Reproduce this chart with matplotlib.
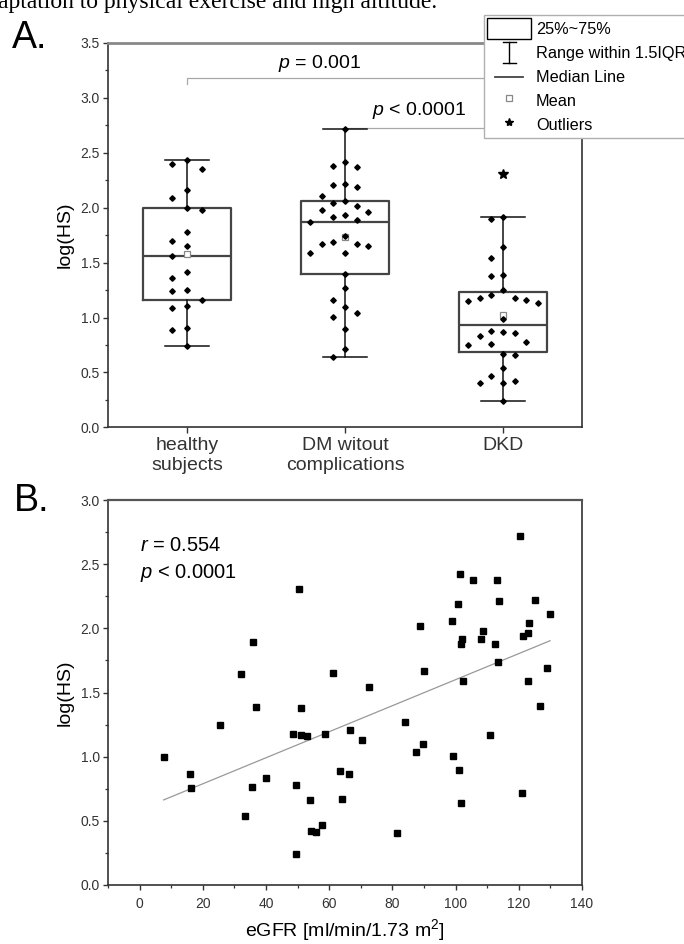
import numpy as np
import matplotlib
matplotlib.use("Agg")
import matplotlib.pyplot as plt
from matplotlib.lines import Line2D
from matplotlib.patches import Patch
from matplotlib.legend_handler import HandlerBase

plt.rcParams['font.family'] = 'Liberation Sans'
plt.rcParams['mathtext.fontset'] = 'custom'
plt.rcParams['mathtext.rm'] = 'Liberation Sans'
plt.rcParams['mathtext.it'] = 'Liberation Sans:italic'

# ---- panel A: log(HS) per group ----
groups = ["healthy\nsubjects", "DM witout\ncomplications", "DKD"]
hs_healthy = [2.43, 2.351, 2.394, 2.157, 2.0, 2.084, 1.981, 1.778, 1.699, 1.65, 1.562,
              1.414, 1.359, 1.253, 1.238, 1.162, 1.104, 1.089, 0.883, 0.904, 0.737]
hs_dm = [2.721, 2.415, 2.376, 2.373, 2.215, 2.209, 2.188, 2.109, 2.06, 2.015, 2.039,
         1.981, 1.93, 1.957, 1.914, 1.872, 1.884, 1.741, 1.65, 1.669, 1.687, 1.666,
         1.59, 1.59, 1.393, 1.265, 1.159, 1.095, 1.041, 1.004, 0.895, 0.71, 0.637]
hs_dkd = [2.309, 1.893, 1.917, 1.641, 1.541, 1.387, 1.377, 1.247, 1.153, 1.162, 1.204,
          1.174, 1.174, 1.129, 0.989, 0.862, 0.828, 0.78, 0.865, 0.88, 0.752, 0.758,
          0.667, 0.655, 0.537, 0.419, 0.404, 0.467, 0.407, 0.24]
p_labels = ["$\\it{p}$ = 0.001", "$\\it{p}$ < 0.0001"]

# ---- panel B: log(HS) vs eGFR ----
egfr = [7.6, 16.0, 16.3, 25.4, 36.8, 51.1, 35.6, 40.1, 33.4, 48.5, 51.1, 53.0, 58.6,
        49.6, 54.0, 54.1, 55.8, 57.6, 49.4, 66.6, 63.3, 66.3, 63.9, 70.5, 84.1, 87.4,
        89.8, 81.5, 99.1, 101.1, 101.6, 110.8, 121.1, 126.8, 120.3, 101.3, 105.5, 113.0,
        100.8, 113.8, 125.2, 129.9, 88.7, 98.8, 102.0, 101.7, 108.8, 107.9, 112.4, 123.1,
        123.0, 121.2, 113.5, 90.0, 128.9, 102.3, 122.9, 50.6, 35.9, 32.0, 61.2, 72.6]
hs_egfr = [0.995, 0.865, 0.755, 1.25, 1.39, 1.38, 0.76, 0.833, 0.536, 1.177, 1.17, 1.159,
           1.18, 0.78, 0.659, 0.42, 0.41, 0.469, 0.24, 1.21, 0.885, 0.867, 0.674, 1.13,
           1.27, 1.04, 1.096, 0.404, 1.008, 0.898, 0.64, 1.167, 0.716, 1.396, 2.72, 2.42,
           2.38, 2.38, 2.19, 2.21, 2.22, 2.11, 2.02, 2.06, 1.92, 1.88, 1.98, 1.92, 1.88,
           2.04, 1.96, 1.94, 1.74, 1.67, 1.69, 1.59, 1.59, 2.31, 1.89, 1.645, 1.65, 1.545]
corr_labels = ["$\\it{r}$ = 0.554", "$\\it{p}$ < 0.0001"]


def swarm(values, gap=0.12, max_spread=0.22, max_step=0.093):
    # greedy column layout: each point goes to the first free column
    values = np.asarray(values)
    cols = {}
    slot = np.zeros(len(values), dtype=int)
    tries = [0]
    for n in range(1, 12):
        tries += [-n, n]
    for i in np.argsort(values)[::-1]:
        for k in tries:
            if all(abs(values[i] - w) >= gap for w in cols.get(k, [])):
                break
        cols.setdefault(k, []).append(values[i])
        slot[i] = k
    kmax = max(1, np.abs(slot).max())
    return slot * min(max_step, max_spread / kmax)


class HandlerRange(HandlerBase):
    def create_artists(self, legend, orig_handle, xdescent, ydescent,
                       width, height, fontsize, trans):
        cx = width / 2 - xdescent
        y0, y1 = -ydescent, height - ydescent
        h = width * 0.15
        kw = dict(color='black', lw=1.0, transform=trans)
        return [Line2D([cx, cx], [y0, y1], **kw),
                Line2D([cx - h, cx + h], [y0, y0], **kw),
                Line2D([cx - h, cx + h], [y1, y1], **kw)]


class HandlerShortLine(HandlerBase):
    def create_artists(self, legend, orig_handle, xdescent, ydescent,
                       width, height, fontsize, trans):
        y = height / 2 - ydescent
        return [Line2D([-xdescent + 0.18 * width, -xdescent + 0.82 * width], [y, y],
                       color='#444444', lw=1.3, transform=trans)]


fig = plt.figure(figsize=(6.84, 9.44), dpi=100)
axA = fig.add_axes([108 / 684, 1 - 427.3 / 944, 474 / 684, 384.3 / 944])
axB = fig.add_axes([108 / 684, 1 - 885 / 944, 474 / 684, 385 / 944])

fig.text(-2 / 684, 1 - 8 / 944, "aptation to physical exercise and high altitude.",
         family='Liberation Serif', fontsize=17, va='baseline')
fig.text(12 / 684, 1 - 48 / 944, "A.", fontsize=27, va='baseline')
fig.text(14 / 684, 1 - 511 / 944, "B.", fontsize=27, va='baseline')

# ---- box plot ----
data = [hs_healthy, hs_dm, hs_dkd]
pos = np.arange(1, len(groups) + 1)
axA.boxplot(data, positions=pos, widths=0.56, whis=1.5, showmeans=True,
            capwidths=0.28,
            boxprops=dict(color='#444444', lw=1.6),
            medianprops=dict(color='#444444', lw=1.6),
            whiskerprops=dict(color='#111111', lw=1.1),
            capprops=dict(color='#111111', lw=1.1),
            meanprops=dict(marker='s', markersize=4.0, markerfacecolor='white',
                           markeredgecolor='#888888', markeredgewidth=0.9),
            flierprops=dict(marker='*', markersize=7, markerfacecolor='black',
                            markeredgecolor='black'),
            zorder=2)
for x0, vals in zip(pos, data):
    vals = np.asarray(vals)
    q1, q3 = np.percentile(vals, [25, 75])
    keep = (vals >= q1 - 1.5 * (q3 - q1)) & (vals <= q3 + 1.5 * (q3 - q1))
    offs = swarm(vals[keep])
    axA.plot(x0 + offs, vals[keep], 'D', color='black', markersize=2.8, zorder=3)

# significance brackets
axA.plot([1, 1, 3, 3], [3.13, 3.18, 3.18, 3.13], color='#a8a8a8', lw=0.9, zorder=1)
axA.plot([2, 2, 3, 3], [2.69, 2.73, 2.73, 2.69], color='#a8a8a8', lw=0.9, zorder=1)
axA.text(1.84, 3.27, p_labels[0], fontsize=14, ha='center', va='baseline')
axA.text(2.47, 2.84, p_labels[1], fontsize=14, ha='center', va='baseline')

axA.set_xlim(0.5, 3.5)
axA.set_ylim(0, 3.5)
axA.set_xticks(pos)
axA.set_xticklabels(groups, fontsize=14)
axA.set_yticks(np.arange(0, 3.51, 0.5))
axA.set_yticks(np.arange(0.25, 3.5, 0.5), minor=True)
axA.set_ylabel("log(HS)", fontsize=14, labelpad=5)

# ---- scatter with fit ----
egfr_a = np.array(egfr)
hs_a = np.array(hs_egfr)
axB.plot(egfr_a, hs_a, 's', color='black', markersize=4.8, zorder=3)
k, b = np.polyfit(egfr_a, hs_a, 1)
xf = np.array([egfr_a.min(), egfr_a.max()])
axB.plot(xf, k * xf + b, color='#999999', lw=0.9, zorder=2)
axB.text(0, 2.60, corr_labels[0], fontsize=14.5, va='baseline')
axB.text(0, 2.39, corr_labels[1], fontsize=14.5, va='baseline')

axB.set_xlim(-10, 140)
axB.set_ylim(0, 3.0)
axB.set_xticks(np.arange(0, 141, 20))
axB.set_xticks(np.arange(-10, 141, 10), minor=True)
axB.set_yticks(np.arange(0, 3.01, 0.5))
axB.set_yticks(np.arange(0.25, 3.0, 0.5), minor=True)
axB.set_xlabel("eGFR [ml/min/1.73 m$^2$]", fontsize=14, labelpad=4)
axB.set_ylabel("log(HS)", fontsize=14, labelpad=5)

for ax in (axA, axB):
    ax.tick_params(which='major', direction='out', length=3.4, width=1.0,
                   labelsize=10, labelcolor='#333333', color='#333333', pad=2.5)
    ax.tick_params(which='minor', direction='out', length=2.0, width=0.9, color='#333333')
    ax.tick_params(top=False, right=False, which='both')
    for s in ('left', 'bottom', 'right'):
        ax.spines[s].set_color('#333333')
        ax.spines[s].set_linewidth(1.2)
    ax.spines['top'].set_color('#555555')
    ax.spines['top'].set_linewidth(1.6)
axA.spines['top'].set_color('#888888')
axA.spines['top'].set_linewidth(2.0)
axA.tick_params(axis='x', which='major', length=4.2, labelsize=14, pad=3)
axB.tick_params(axis='x', which='major', length=3.8, pad=5)

# ---- legend ----
handles = [Patch(facecolor='white', edgecolor='black', lw=1.0),
           Line2D([], [], color='black'),
           Line2D([], [], color='#444444'),
           Line2D([], [], marker='s', ls='none', markersize=4.0, markerfacecolor='white',
                  markeredgecolor='#888888', markeredgewidth=0.9),
           Line2D([], [], marker='*', ls='none', markersize=6, color='black')]
labels = ["25%~75%", "Range within 1.5IQR", "Median Line", "Mean", "Outliers"]
leg = fig.legend(handles, labels, loc='upper left', bbox_to_anchor=(484 / 684, 1 - 15 / 944),
                 fontsize=11.7, handlelength=2.7, handleheight=1.61, labelspacing=0.18,
                 handletextpad=0.3, borderpad=0.2, borderaxespad=0, fancybox=False,
                 framealpha=1, edgecolor='#b0b0b0',
                 handler_map={handles[1]: HandlerRange(), handles[2]: HandlerShortLine()})
leg.get_frame().set_linewidth(1.0)

fig.savefig("out.png", dpi=100)
